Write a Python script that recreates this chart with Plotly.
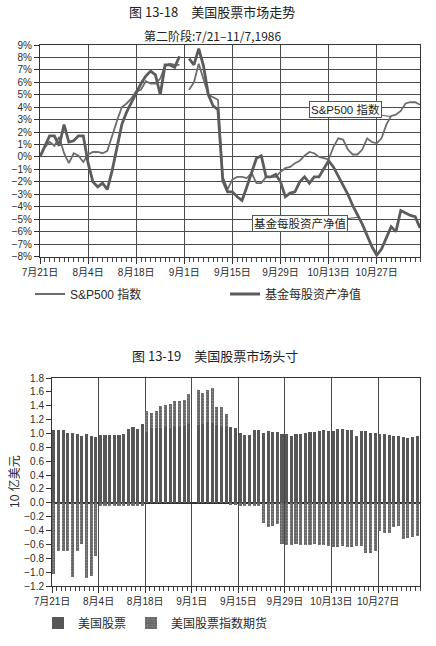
import plotly.graph_objects as go

# ---------------- data ----------------
day_index = list(range(80))  # trading-day positions, 7/21 .. 11/7 1986
tick_positions = [0, 10, 20, 30, 40, 50, 60, 70]
tick_labels = ["7月21日", "8月4日", "8月18日", "9月1日", "9月15日", "9月29日", "10月13日", "10月27日"]

pct_ticks = [9, 8, 7, 6, 5, 4, 3, 2, 1, 0, -1, -2, -3, -4, -5, -6, -7, -8]
pct_labels = ["9%", "8%", "7%", "6%", "5%", "4%", "3%", "2%", "1%", "0%",
              "−1%", "−2%", "−3%", "−4%", "−5%", "−6%", "−7%", "−8%"]

sp500 = [0.1, 0.8, 1.2, 0.9, 1.6, 0.3, -0.5, 0.3, 0.1, -0.4,
         0.2, 0.4, 0.4, 0.3, 0.5, 1.8, 2.9, 4.0, 4.3, 4.7,
         5.3, 5.4, 6.1, 5.9, 5.9, 6.3, 7.3, 7.5, 7.4, 7.4,
         None, 5.4, 6.0, 7.5, 6.2, 5.0, 4.8, 4.6, -1.6, -2.6,
         -1.8, -1.6, -1.6, -1.7, -1.3, -2.1, -2.1, -1.6, -1.6, -1.6,
         -1.2, -0.9, -0.8, -0.5, -0.3, 0.1, 0.4, 0.3, 0.0, -0.1,
         -0.2, 0.8, 1.5, 1.4, 0.6, 0.2, 0.2, 0.6, 1.5, 1.2,
         1.1, 1.5, 2.6, 3.3, 3.4, 3.7, 4.3, 4.4, 4.4, 4.2]

fund_nav = [0.0, 0.9, 1.7, 1.7, 0.9, 2.6, 1.2, 1.3, 1.7, 1.7,
            -0.5, -2.0, -2.4, -2.1, -2.6, -1.1, 0.8, 2.6, 3.6, 4.4,
            5.1, 5.9, 6.5, 6.9, 6.6, 5.0, 7.4, 7.4, 7.2, 8.1,
            None, 7.9, 7.4, 8.7, 7.3, 5.0, 4.1, 3.8, -1.9, -2.8,
            -2.8, -3.2, -3.5, -2.4, -1.2, -0.1, 0.1, -1.6, -1.6, -1.4,
            -2.0, -3.2, -2.9, -2.8, -2.0, -1.6, -2.1, -1.6, -1.6, -1.0,
            -0.3, -0.8, -1.5, -2.3, -3.0, -3.9, -4.6, -5.4, -6.3, -7.2,
            -7.9, -7.4, -6.5, -5.6, -6.0, -4.3, -4.5, -4.7, -4.8, -5.7]

bottom_ticks = [1.8, 1.6, 1.4, 1.2, 1.0, 0.8, 0.6, 0.4, 0.2, 0.0,
                -0.2, -0.4, -0.6, -0.8, -1.0, -1.2]
bottom_labels = ["1.8", "1.6", "1.4", "1.2", "1.0", "0.8", "0.6", "0.4", "0.2", "0.0",
                 "−0.2", "−0.4", "−0.6", "−0.8", "−1.0", "−1.2"]

stocks = [1.05, 1.05, 1.05, 1.01, 1.01, 0.99, 0.97, 0.99, 0.96, 0.95,
          0.98, 0.98, 0.98, 0.98, 0.98, 0.99, 1.06, 1.09, 1.07, 1.14,
          1.02, 1.08, 1.08, 1.08, 1.09, 1.08, 1.10, 1.10, 1.11, 1.13,
          None, 1.12, 1.13, 1.17, 1.15, 1.12, 1.10, 1.10, 1.10, 1.08,
          1.01, 0.98, 0.98, 1.05, 1.05, 1.01, 1.04, 1.02, 1.02, 0.99,
          0.99, 0.96, 0.99, 0.99, 1.01, 1.02, 1.02, 1.04, 1.05, 1.04,
          1.04, 1.06, 1.06, 1.05, 1.05, 0.97, 1.04, 1.04, 1.01, 1.00,
          0.99, 0.99, 0.98, 0.96, 0.96, 0.95, 0.94, 0.95, 0.96, 0.97]

futures = [-1.02, -0.70, -0.70, -0.70, -1.07, -0.70, -0.60, -1.08, -1.06, -0.77,
           -0.04, -0.04, -0.04, -0.04, -0.04, -0.04, -0.04, -0.04, -0.04, -0.04,
           0.30, 0.22, 0.25, 0.31, 0.32, 0.34, 0.37, 0.37, 0.37, 0.44,
           None, 0.50, 0.45, 0.46, 0.50, 0.26, 0.28, 0.18, -0.03, -0.03,
           -0.04, -0.04, -0.04, -0.04, -0.04, -0.29, -0.35, -0.34, -0.31, -0.60,
           -0.61, -0.61, -0.60, -0.61, -0.61, -0.61, -0.60, -0.61, -0.61, -0.62,
           -0.64, -0.64, -0.63, -0.64, -0.64, -0.63, -0.62, -0.72, -0.72, -0.70,
           -0.41, -0.43, -0.44, -0.35, -0.34, -0.52, -0.51, -0.50, -0.48, -0.60]

# ---------------- figure ----------------
W, H = 436, 646
FONT = "Liberation Sans, Noto Sans CJK SC, sans-serif"
CJK = "Noto Sans CJK SC, sans-serif"
INK = "#2b2b2b"
GRID = "#4a4a4a"


def px(x):
    return x / W


def py(y):
    return 1 - y / H


fig = go.Figure()

fig.add_trace(go.Scatter(x=day_index, y=sp500, mode="lines", name="S&P500 指数",
                         line=dict(color="#6d6d6d", width=1.8),
                         xaxis="x", yaxis="y", legend="legend"))
fig.add_trace(go.Scatter(x=day_index, y=fund_nav, mode="lines", name="基金每股资产净值",
                         line=dict(color="#5c5c5c", width=2.8),
                         xaxis="x", yaxis="y", legend="legend"))

fig.add_trace(go.Bar(x=day_index, y=stocks, name="美国股票",
                     width=0.66, offset=0.05,
                     marker=dict(color="#575757", line=dict(width=0)),
                     xaxis="x2", yaxis="y2", legend="legend2"))
fig.add_trace(go.Bar(x=day_index, y=futures, name="美国股票指数期货",
                     width=0.66, offset=0.05,
                     marker=dict(color="#666666", line=dict(width=0),
                                 pattern=dict(shape=".", fgcolor="#b5b5b5", size=3, solidity=0.25)),
                     xaxis="x2", yaxis="y2", legend="legend2"))

axis_common = dict(showline=True, mirror=True, linecolor="#333333", linewidth=1,
                   tickfont=dict(family=FONT, size=10, color=INK), zeroline=False,
                   automargin=False)

title_kw = dict(xref="paper", yref="paper", xanchor="center", yanchor="middle", showarrow=False)

fig.update_layout(
    width=W, height=H,
    margin=dict(l=0, r=0, t=0, b=0, autoexpand=False),
    paper_bgcolor="white", plot_bgcolor="white",
    barmode="relative", bargap=0,
    font=dict(family=FONT, color=INK),
    xaxis=dict(domain=[px(40), px(420)], anchor="y", range=[0, 79],
               tickmode="array", tickvals=tick_positions, ticktext=tick_labels,
               showgrid=True, gridcolor=GRID, gridwidth=1,
               ticks="outside", ticklen=6, tickcolor="#333333",
               minor=dict(tickmode="linear", tick0=0, dtick=1, ticks="outside",
                          ticklen=4, tickcolor="#444444", showgrid=False),
               **axis_common),
    yaxis=dict(domain=[py(256.5), py(45)], anchor="x", range=[-8, 9],
               tickmode="array", tickvals=pct_ticks, ticktext=pct_labels,
               showgrid=True, gridcolor=GRID, gridwidth=1,
               ticks="outside", ticklen=5, tickcolor="#333333",
               **axis_common),
    xaxis2=dict(domain=[px(52), px(420)], anchor="y2", range=[0, 79],
                tickmode="array", tickvals=tick_positions, ticktext=tick_labels,
                showgrid=True, gridcolor=GRID, gridwidth=1,
                ticks="outside", ticklen=6, tickcolor="#333333",
                minor=dict(tickmode="linear", tick0=0, dtick=1, ticks="outside",
                           ticklen=4, tickcolor="#444444", showgrid=False),
                **axis_common),
    yaxis2=dict(domain=[py(586), py(378)], anchor="x2", range=[-1.2, 1.8],
                tickmode="array", tickvals=bottom_ticks, ticktext=bottom_labels,
                showgrid=False, ticks="outside", ticklen=5, tickcolor="#333333",
                showline=True, mirror=True, linecolor="#333333", linewidth=1,
                tickfont=dict(family=FONT, size=10, color=INK), automargin=False,
                zeroline=True, zerolinecolor="#333333", zerolinewidth=2),
    legend=dict(orientation="h", x=px(30), y=py(294), xanchor="left", yanchor="middle",
                font=dict(family=FONT, size=12, color=INK), bgcolor="rgba(0,0,0,0)",
                entrywidth=150, traceorder="normal"),
    legend2=dict(orientation="h", x=px(38), y=py(623), xanchor="left", yanchor="middle",
                 font=dict(family=FONT, size=12, color=INK), bgcolor="rgba(0,0,0,0)",
                 traceorder="normal"),
    annotations=[
        dict(text="图 13-18　美国股票市场走势", x=px(212), y=py(12),
             font=dict(family=CJK, size=13, color="#222222"), **title_kw),
        dict(text="第二阶段:7/21–11/7,1986", x=px(212), y=py(36),
             font=dict(family=CJK, size=12, color="#222222"), **title_kw),
        dict(text="图 13-19　美国股票市场头寸", x=px(215), y=py(355),
             font=dict(family=CJK, size=13, color="#222222"), **title_kw),
        dict(text="10 亿美元", x=px(15), y=py(482), textangle=-90,
             font=dict(family=FONT, size=12, color=INK), **title_kw),
        dict(text="S&P500 指数", x=72.9, y=3.25, xref="x", yref="y",
             ax=63.5, ay=3.78, axref="x", ayref="y",
             showarrow=True, arrowhead=0, arrowwidth=1, arrowcolor="#555555",
             bgcolor="white", bordercolor="#555555", borderwidth=1, borderpad=1,
             font=dict(family=FONT, size=11.5, color="#222222")),
        dict(text="基金每股资产净值", x=66.3, y=-4.85, xref="x", yref="y",
             ax=54.0, ay=-5.35, axref="x", ayref="y",
             showarrow=True, arrowhead=0, arrowwidth=1, arrowcolor="#555555",
             bgcolor="white", bordercolor="#555555", borderwidth=1, borderpad=1,
             font=dict(family=FONT, size=11.5, color="#222222")),
    ],
)

fig.write_html("out.html", config={"displayModeBar": False},
               post_script="document.body.style.margin='0px';")
